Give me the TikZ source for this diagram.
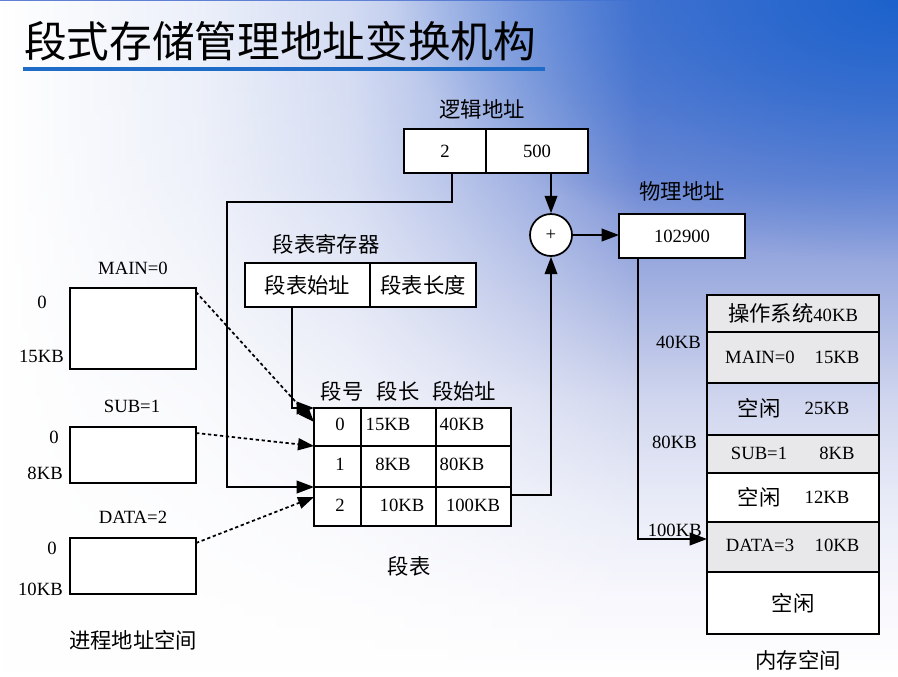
\documentclass[tikz,border=0pt]{standalone}
\usepackage{fontspec}
\setmainfont{Liberation Serif}
\newfontfamily\cjk{Noto Sans CJK SC}
\usetikzlibrary{arrows.meta,fadings}

\definecolor{titleblue}{RGB}{30,108,200}
\definecolor{blobblue}{RGB}{28,98,204}
\definecolor{memgray}{RGB}{232,232,234}

% TikZ maps the central 25bp..75bp of a 100bp shading/fading onto the path
\pgfdeclareverticalshading{bgv}{100bp}{%
  color(0bp)=(white);
  color(25bp)=(white);
  color(30.6bp)=({rgb,255:red,248;green,248;blue,253});
  color(38bp)=({rgb,255:red,232;green,235;blue,247});
  color(45.4bp)=({rgb,255:red,208;green,214;blue,238});
  color(52.8bp)=({rgb,255:red,168;green,181;blue,226});
  color(61.7bp)=({rgb,255:red,118;green,142;blue,214});
  color(67.6bp)=({rgb,255:red,106;green,134;blue,212});
  color(75bp)=({rgb,255:red,96;green,128;blue,212});
  color(100bp)=({rgb,255:red,96;green,128;blue,212})}

\pgfdeclarehorizontalshading{hfadeshade}{100bp}{%
  color(0bp)=(pgftransparent!0);
  color(25bp)=(pgftransparent!0);
  color(36.1bp)=(pgftransparent!12);
  color(44.5bp)=(pgftransparent!28);
  color(50bp)=(pgftransparent!50);
  color(55.6bp)=(pgftransparent!75);
  color(60.6bp)=(pgftransparent!100);
  color(100bp)=(pgftransparent!100)}
\pgfdeclarefading{hfade}{\pgfuseshading{hfadeshade}}

\pgfdeclareradialshading{blobshade}{\pgfpointorigin}{%
  color(0bp)=(pgftransparent!0);
  color(9bp)=(pgftransparent!35);
  color(17bp)=(pgftransparent!70);
  color(25bp)=(pgftransparent!100);
  color(50bp)=(pgftransparent!100)}
\pgfdeclarefading{blob}{\pgfuseshading{blobshade}}

\begin{document}
\begin{tikzpicture}[x=0.75pt,y=-0.75pt,
  box/.style={draw=black, line width=1.3pt, fill=white, inner sep=0pt, outer sep=0pt},
  wh/.style 2 args={minimum width=#1*0.75pt, minimum height=#2*0.75pt},
  lat/.style={font=\fontsize{14}{16}\selectfont, inner sep=0pt},
  zh/.style={font=\cjk\fontsize{16}{19}\selectfont, inner sep=0pt},
  arr/.style={line width=1.3pt, -{Triangle[length=13pt,width=9.5pt]}},
  dotarr/.style={line width=1.3pt, dash pattern=on 2.5pt off 2pt, -{Triangle[length=12pt,width=9pt]}},
  memrow/.style={box, wh={172}{#1}, fill=memgray}
]
\useasboundingbox (0,0) rectangle (898,676);

% ---------- background ----------
\begin{scope}
  \clip (0,0) rectangle (898,676);
  \shade[shading=bgv] (0,0) rectangle (898,676);
  \fill[white, path fading=hfade, fit fading=true] (0,0) rectangle (898,676);
  \fill[blobblue, path fading=blob, fit fading=true] (398,-260) rectangle (1398,260);
\end{scope}

% ---------- title ----------
\node[anchor=west, inner sep=0pt, font=\cjk\fontsize{32}{38}\selectfont] (title) at (24,41) {段式存储管理地址变换机构};
\fill[titleblue] (23,67) rectangle (545,71);

% ---------- logical address ----------
\node[zh] (lalabel) at (482,109) {逻辑地址};
\node[box, wh={82}{44}, lat] (la1) at (445,151) {2};
\node[box, wh={102}{44}, lat] (la2) at (537,151) {500};

\node[draw=black, circle, line width=1.3pt, fill=white, minimum size=42*0.75pt, inner sep=0pt, lat] (plus) at (551,235) {+};

% ---------- physical address ----------
\node[zh] (palabel) at (682,191) {物理地址};
\node[box, wh={126}{44}, lat] (pa) at (682,236) {102900};

% ---------- segment table register ----------
\node[zh] (reglabel) at (326,244) {段表寄存器};
\node[box, wh={125}{44}, zh] (reg1) at (307.5,285) {段表始址};
\node[box, wh={106}{44}, zh] (reg2) at (423,285) {段表长度};

% ---------- process address space ----------
\node[lat] (mainlabel) at (133,268) {MAIN=0};
\node[box, wh={126}{81}] (pmain) at (133,328.5) {};
\node[lat] (main0) at (42,302) {0};
\node[lat, anchor=east] (main15) at (64,356) {15KB};

\node[lat] (sublabel) at (132,406) {SUB=1};
\node[box, wh={126}{56}] (psub) at (133,455) {};
\node[lat] (sub0) at (54,437) {0};
\node[lat, anchor=east] (sub8) at (63,473) {8KB};

\node[lat] (datalabel) at (133,517) {DATA=2};
\node[box, wh={126}{56}] (pdata) at (133,566) {};
\node[lat] (data0) at (52,548) {0};
\node[lat, anchor=east] (data10) at (63,589) {10KB};

\node[zh] (proclabel) at (133,640) {进程地址空间};

% ---------- segment table ----------
\node[zh] (h0) at (342,391) {段号};
\node[zh] (h1) at (398,391) {段长};
\node[zh] (h2) at (464,391) {段始址};

\node[box, wh={47}{38}] (t00) at (337.5,427) {};
\node[box, wh={75}{38}] (t01) at (398.5,427) {};
\node[box, wh={75}{38}] (t02) at (473.5,427) {};
\node[box, wh={47}{41}] (t10) at (337.5,466.5) {};
\node[box, wh={75}{41}] (t11) at (398.5,466.5) {};
\node[box, wh={75}{41}] (t12) at (473.5,466.5) {};
\node[box, wh={47}{39}] (t20) at (337.5,506.5) {};
\node[box, wh={75}{39}] (t21) at (398.5,506.5) {};
\node[box, wh={75}{39}] (t22) at (473.5,506.5) {};

\node[lat] (v00) at (340,424) {0};
\node[lat] (v01) at (388,424) {15KB};
\node[lat] (v02) at (462,424) {40KB};
\node[lat] (v10) at (340,464) {1};
\node[lat] (v11) at (393,464) {8KB};
\node[lat] (v12) at (462,464) {80KB};
\node[lat] (v20) at (340,505) {2};
\node[lat] (v21) at (402,505) {10KB};
\node[lat] (v22) at (473,505) {100KB};

\node[zh] (tablelabel) at (409,566) {段表};

% ---------- memory ----------
\node[memrow=37, font=\fontsize{14}{16}\selectfont] (m1) at (793,313.5) {{\cjk\fontsize{16}{19}\selectfont 操作系统}40KB};
\node[memrow=51] (m2) at (793,357.5) {};
\node[memrow=52, fill=none] (m3) at (793,409) {};
\node[memrow=38] (m4) at (793,454) {};
\node[memrow=49, fill=white] (m5) at (793,497.5) {};
\node[memrow=50] (m6) at (793,547) {};
\node[memrow=62, fill=white] (m7) at (793,603) {};

\node[lat] (m2a) at (760,357) {MAIN=0};
\node[lat] (m2b) at (837,357) {15KB};
\node[zh] (m3a) at (759,408) {空闲};
\node[lat] (m3b) at (827,408) {25KB};
\node[lat] (m4a) at (759,453) {SUB=1};
\node[lat] (m4b) at (837,453) {8KB};
\node[zh] (m5a) at (759,497) {空闲};
\node[lat] (m5b) at (827,497) {12KB};
\node[lat] (m6a) at (760,545) {DATA=3};
\node[lat] (m6b) at (837,545) {10KB};
\node[zh] (m7a) at (793,603) {空闲};

\node[lat, anchor=east] (a40) at (701,342) {40KB};
\node[lat, anchor=east] (a80) at (697,442) {80KB};
\node[lat, anchor=east] (a100) at (702,530) {100KB};

\node[zh] (memlabel) at (798,660) {内存空间};

% ---------- connectors ----------
\coordinate (bend1) at (227,202);
\draw[arr] (plus.north |- la2.south) -- (plus.north);
\draw[arr] (plus.east) -- (plus.east -| pa.west);
\draw[arr] ([xshift=5.25pt]la1.south) |- (bend1) |- (t20.north west);
\draw[arr] ([xshift=-11.6pt]reg1.south) |- (t00.north west);
\draw[dotarr] ([yshift=-3pt]pmain.north east) -- ([yshift=3.75pt]t00.west);
\draw[dotarr] ([yshift=-4.5pt]psub.north east) -- (t10.north west);
\draw[dotarr] ([yshift=-3.75pt]pdata.north east) -- ([yshift=-7.5pt]t20.north west);
\draw[arr] ([yshift=8.6pt]t22.east) -| (plus.south);
\draw[arr] ([xshift=-33pt]pa.south) |- ([yshift=6pt]m6.west);
\end{tikzpicture}
\end{document}
